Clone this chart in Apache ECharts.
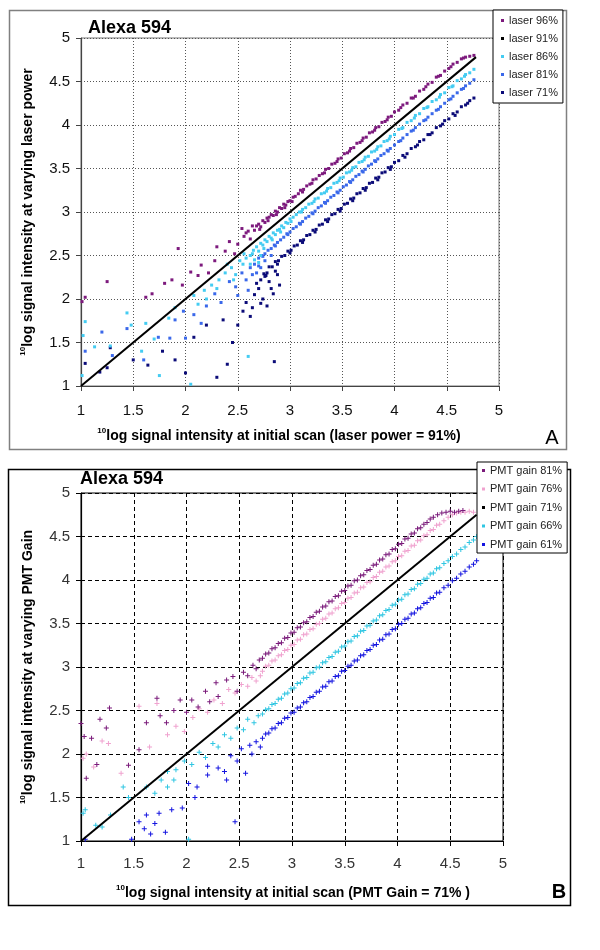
<!DOCTYPE html>
<html><head><meta charset="utf-8">
<script src="https://cdn.jsdelivr.net/npm/echarts@6/dist/echarts.min.js"></script>
<style>html,body{margin:0;padding:0;background:#fff}#c{width:600px;height:950px}</style>
</head><body><div id="c"></div>
<script>
// ---------- Axis ticks ----------
const axisTicks = [1, 1.5, 2, 2.5, 3, 3.5, 4, 4.5, 5];

// ---------- Panel A (laser power) ----------
const namesA = ['laser 96%', 'laser 91%', 'laser 86%', 'laser 81%', 'laser 71%'];
const a96 = [[2.66,2.79],[2.68,2.84],[2.70,2.86],[2.72,2.83],[2.74,2.90],[2.76,2.88],[2.78,2.93],[2.80,2.94],[2.82,2.97],[2.84,2.96],[2.86,3.01],[2.88,3.00],[2.90,3.05],[2.92,3.04],[2.94,3.09],[2.96,3.08],[2.98,3.12],[3.00,3.13],[3.03,3.17],[3.05,3.18],[3.08,3.21],[3.10,3.25],[3.13,3.26],[3.16,3.30],[3.19,3.32],[3.22,3.37],[3.25,3.38],[3.28,3.42],[3.31,3.44],[3.34,3.49],[3.37,3.50],[3.40,3.55],[3.43,3.56],[3.46,3.61],[3.49,3.62],[3.52,3.67],[3.55,3.68],[3.58,3.73],[3.61,3.74],[3.64,3.79],[3.67,3.80],[3.70,3.85],[3.73,3.86],[3.76,3.91],[3.79,3.92],[3.82,3.97],[3.85,3.98],[3.88,4.03],[3.91,4.04],[3.94,4.09],[3.97,4.10],[4.00,4.15],[4.04,4.17],[4.08,4.23],[4.12,4.25],[4.16,4.31],[4.20,4.33],[4.24,4.39],[4.28,4.41],[4.32,4.47],[4.36,4.49],[4.40,4.55],[4.44,4.57],[4.48,4.62],[4.52,4.65],[4.56,4.70],[4.60,4.72],[4.64,4.76],[4.68,4.78],[4.72,4.79],[4.76,4.80],
  [2.71,2.80],[2.79,2.90],[2.87,2.97],[2.95,3.05],[3.02,3.12],[3.12,3.23],[3.21,3.33],[3.33,3.45],[3.45,3.58],[3.57,3.70],[3.69,3.82],[3.81,3.94],[3.93,4.06],[4.06,4.20],[4.18,4.31],[4.30,4.44],[4.42,4.56],[4.54,4.67],[4.66,4.77],
  [1.01,1.97],[1.04,2.02],[1.25,2.20],[1.62,2.02],[1.68,2.06],[1.80,2.18],[1.87,2.22],[1.93,2.58],[1.97,2.16],[2.05,2.31],[2.12,2.27],[2.15,2.39],[2.22,2.30],[2.28,2.44],[2.30,2.60],[2.38,2.55],[2.42,2.66],[2.47,2.52],[2.50,2.63],[2.54,2.81],[2.56,2.72],[2.60,2.78],[2.62,2.69],[2.64,2.84],[2.58,2.76]];
const a91 = [[1,1],[4.78,4.78]];
const a86 = [[2.62,2.50],[2.65,2.56],[2.68,2.60],[2.70,2.55],[2.72,2.64],[2.74,2.62],[2.76,2.68],[2.78,2.66],[2.80,2.72],[2.82,2.70],[2.84,2.76],[2.86,2.74],[2.88,2.79],[2.90,2.80],[2.92,2.84],[2.94,2.82],[2.96,2.88],[2.98,2.87],[3.00,2.92],[3.03,2.94],[3.06,2.97],[3.09,3.00],[3.12,3.03],[3.15,3.05],[3.18,3.09],[3.21,3.10],[3.24,3.15],[3.27,3.16],[3.30,3.21],[3.33,3.22],[3.36,3.27],[3.39,3.28],[3.42,3.33],[3.45,3.34],[3.48,3.39],[3.51,3.40],[3.54,3.45],[3.57,3.46],[3.60,3.51],[3.63,3.52],[3.66,3.57],[3.69,3.58],[3.72,3.63],[3.75,3.64],[3.78,3.69],[3.81,3.70],[3.84,3.75],[3.87,3.76],[3.90,3.81],[3.93,3.82],[3.96,3.87],[4.00,3.89],[4.04,3.95],[4.08,3.97],[4.12,4.03],[4.16,4.05],[4.20,4.11],[4.24,4.13],[4.28,4.19],[4.32,4.21],[4.36,4.27],[4.40,4.29],[4.44,4.35],[4.48,4.37],[4.52,4.43],[4.56,4.45],[4.60,4.51],[4.64,4.53],[4.68,4.58],[4.72,4.60],[4.76,4.64],
  [2.75,2.58],[2.83,2.68],[2.91,2.77],[3.01,2.89],[3.11,3.00],[3.23,3.12],[3.35,3.24],[3.47,3.36],[3.59,3.48],[3.71,3.60],[3.83,3.72],[3.95,3.84],[4.07,3.96],[4.19,4.08],[4.31,4.20],[4.43,4.32],[4.55,4.44],[4.67,4.56],
  [1.01,1.12],[1.02,1.58],[1.04,1.74],[1.13,1.45],[1.28,1.46],[1.44,1.84],[1.48,1.70],[1.58,1.40],[1.62,1.72],[1.70,1.54],[1.75,1.12],[1.84,1.78],[1.90,1.90],[2.05,1.02],[2.08,2.04],[2.12,1.94],[2.18,2.10],[2.25,2.16],[2.32,2.22],[2.38,2.30],[2.44,2.36],[2.48,2.28],[2.52,2.44],[2.60,1.34],[2.56,2.52],[2.62,2.40],[2.20,2.00],[2.30,2.12],[2.55,2.40],[2.58,2.47],[2.66,2.45],[2.70,2.42],[2.64,2.52],[2.72,2.50],[2.46,2.22],[2.40,2.40]];
const a81 = [[2.66,2.40],[2.70,2.47],[2.73,2.50],[2.76,2.52],[2.79,2.56],[2.82,2.58],[2.85,2.62],[2.88,2.65],[2.91,2.68],[2.94,2.71],[2.97,2.75],[3.00,2.77],[3.03,2.81],[3.06,2.83],[3.09,2.87],[3.12,2.89],[3.15,2.93],[3.18,2.95],[3.21,2.99],[3.24,3.01],[3.27,3.05],[3.30,3.07],[3.33,3.11],[3.36,3.13],[3.39,3.17],[3.42,3.19],[3.45,3.23],[3.48,3.25],[3.51,3.29],[3.54,3.31],[3.57,3.35],[3.60,3.37],[3.63,3.41],[3.66,3.43],[3.69,3.47],[3.72,3.49],[3.75,3.53],[3.78,3.55],[3.81,3.59],[3.84,3.61],[3.87,3.65],[3.90,3.67],[3.93,3.71],[3.96,3.73],[4.00,3.77],[4.04,3.81],[4.08,3.85],[4.12,3.89],[4.16,3.93],[4.20,3.97],[4.24,4.01],[4.28,4.05],[4.32,4.09],[4.36,4.13],[4.40,4.17],[4.44,4.21],[4.48,4.25],[4.52,4.29],[4.56,4.33],[4.60,4.37],[4.64,4.41],[4.68,4.45],[4.72,4.48],[4.76,4.52],
  [2.74,2.49],[2.86,2.61],[2.98,2.74],[3.10,2.86],[3.22,2.98],[3.34,3.10],[3.46,3.22],[3.58,3.34],[3.70,3.46],[3.82,3.58],[3.94,3.70],[4.06,3.82],[4.18,3.94],[4.30,4.06],[4.42,4.18],[4.54,4.30],[4.66,4.42],
  [1.04,1.40],[1.20,1.62],[1.30,1.35],[1.44,1.66],[1.60,1.30],[1.74,1.56],[1.85,1.55],[1.90,1.76],[1.98,1.86],[2.00,1.55],[2.08,1.82],[2.15,1.72],[2.20,1.92],[2.28,2.06],[2.34,1.96],[2.42,2.20],[2.48,2.14],[2.54,2.30],[2.58,2.22],[2.62,2.36],[2.64,2.28],[2.70,2.38],[2.76,2.44],[2.82,2.50],[2.60,2.10],[2.68,2.30],[2.72,2.36],[2.50,2.04]];
const a71 = [[2.72,2.22],[2.75,2.29],[2.78,2.30],[2.80,2.37],[2.83,2.37],[2.86,2.43],[2.89,2.44],[2.92,2.49],[2.95,2.50],[2.98,2.55],[3.01,2.56],[3.04,2.61],[3.07,2.62],[3.10,2.67],[3.13,2.68],[3.16,2.73],[3.19,2.74],[3.22,2.79],[3.25,2.80],[3.28,2.85],[3.31,2.86],[3.34,2.91],[3.37,2.92],[3.40,2.97],[3.43,2.98],[3.46,3.03],[3.49,3.04],[3.52,3.09],[3.55,3.10],[3.58,3.15],[3.61,3.16],[3.64,3.21],[3.67,3.22],[3.70,3.27],[3.73,3.28],[3.76,3.33],[3.79,3.34],[3.82,3.39],[3.85,3.40],[3.88,3.45],[3.91,3.46],[3.94,3.51],[3.97,3.52],[4.00,3.57],[4.04,3.59],[4.08,3.65],[4.12,3.67],[4.16,3.73],[4.20,3.75],[4.24,3.81],[4.28,3.83],[4.32,3.89],[4.36,3.91],[4.40,3.97],[4.44,3.99],[4.48,4.05],[4.52,4.07],[4.56,4.13],[4.60,4.15],[4.64,4.21],[4.68,4.23],[4.72,4.28],[4.76,4.31],
  [2.77,2.27],[2.88,2.40],[3.00,2.53],[3.12,2.65],[3.24,2.77],[3.36,2.89],[3.48,3.01],[3.60,3.13],[3.72,3.25],[3.84,3.37],[3.96,3.49],[4.10,3.63],[4.22,3.77],[4.34,3.89],[4.46,4.01],[4.58,4.11],[4.70,4.25],
  [1.04,1.26],[1.18,1.16],[1.25,1.21],[1.28,1.44],[1.50,1.30],[1.64,1.24],[1.78,1.40],[1.90,1.30],[2.00,1.15],[2.08,1.56],[2.20,1.70],[2.30,1.10],[2.36,1.76],[2.40,1.25],[2.45,1.50],[2.50,1.70],[2.55,1.86],[2.58,1.96],[2.62,1.80],[2.66,2.05],[2.70,2.12],[2.74,2.00],[2.78,1.92],[2.80,2.20],[2.84,2.06],[2.85,1.28],[2.88,2.28],[2.90,2.16],[2.76,2.26],[2.68,2.18],[2.72,1.95],[2.82,2.12],[2.64,1.90],[2.86,2.32]];

// ---------- Panel B (PMT gain) ----------
const namesB = ['PMT gain 81%', 'PMT gain 76%', 'PMT gain 71%', 'PMT gain 66%', 'PMT gain 61%'];
const b81 = [[2.72,3.10],[2.75,3.15],[2.78,3.16],[2.81,3.21],[2.84,3.22],[2.87,3.27],[2.90,3.28],[2.93,3.33],[2.96,3.34],[2.99,3.39],[3.02,3.40],[3.05,3.45],[3.08,3.46],[3.11,3.51],[3.14,3.52],[3.17,3.57],[3.20,3.58],[3.23,3.63],[3.26,3.64],[3.29,3.69],[3.32,3.70],[3.35,3.75],[3.38,3.76],[3.41,3.81],[3.44,3.82],[3.47,3.87],[3.50,3.88],[3.53,3.93],[3.56,3.94],[3.59,3.99],[3.62,4.00],[3.65,4.05],[3.68,4.06],[3.71,4.11],[3.74,4.12],[3.77,4.17],[3.80,4.18],[3.83,4.23],[3.86,4.24],[3.89,4.29],[3.92,4.30],[3.95,4.35],[3.98,4.36],[4.01,4.41],[4.04,4.42],[4.07,4.47],[4.10,4.48],[4.13,4.53],[4.16,4.54],[4.19,4.59],[4.22,4.60],[4.25,4.64],[4.28,4.66],[4.31,4.70],[4.34,4.72],[4.38,4.75],[4.42,4.77],[4.46,4.78],[4.50,4.79],[4.54,4.78],[4.58,4.79],[4.62,4.80],
  [1.00,2.35],[1.03,2.20],[1.05,1.72],[1.10,2.18],[1.15,1.88],[1.18,2.40],[1.24,2.30],[1.27,2.53],[1.45,1.87],[1.55,2.05],[1.62,2.36],[1.72,2.64],[1.75,2.44],[1.81,2.36],[1.88,2.50],[1.94,2.62],[2.00,2.48],[2.05,2.62],[2.11,2.54],[2.18,2.72],[2.22,2.60],[2.28,2.82],[2.38,2.85],[2.44,2.89],[2.48,2.72],[2.54,2.94],[2.58,2.90],[2.63,3.02],[2.66,2.98],[2.69,3.08],[2.30,2.66]];
const b76 = [[2.72,2.95],[2.75,3.01],[2.78,3.02],[2.81,3.07],[2.84,3.08],[2.87,3.13],[2.90,3.14],[2.93,3.19],[2.96,3.20],[2.99,3.25],[3.02,3.26],[3.05,3.31],[3.08,3.32],[3.11,3.37],[3.14,3.38],[3.17,3.43],[3.20,3.44],[3.23,3.49],[3.26,3.50],[3.29,3.55],[3.32,3.56],[3.35,3.61],[3.38,3.62],[3.41,3.67],[3.44,3.68],[3.47,3.73],[3.50,3.74],[3.53,3.79],[3.56,3.80],[3.59,3.85],[3.62,3.86],[3.65,3.91],[3.68,3.92],[3.71,3.97],[3.74,3.98],[3.77,4.03],[3.80,4.04],[3.83,4.09],[3.86,4.10],[3.89,4.15],[3.92,4.16],[3.95,4.21],[3.98,4.22],[4.01,4.27],[4.04,4.28],[4.07,4.33],[4.10,4.34],[4.13,4.39],[4.16,4.40],[4.19,4.45],[4.22,4.46],[4.25,4.51],[4.28,4.52],[4.31,4.57],[4.34,4.58],[4.37,4.63],[4.40,4.64],[4.44,4.68],[4.48,4.72],[4.52,4.75],[4.56,4.77],[4.60,4.78],[4.64,4.78],[4.68,4.79],[4.72,4.78],
  [1.02,1.95],[1.05,2.00],[1.12,1.85],[1.20,2.15],[1.26,2.12],[1.38,1.78],[1.55,2.55],[1.65,2.08],[1.72,2.58],[1.82,2.22],[1.90,2.32],[1.98,2.26],[2.06,2.42],[2.12,2.52],[2.20,2.48],[2.26,2.62],[2.34,2.58],[2.40,2.74],[2.46,2.70],[2.52,2.80],[2.58,2.78],[2.62,2.88],[2.66,2.84],[2.70,2.90]];
const b71 = [[1,1],[4.75,4.75]];
const b66 = [[2.72,2.46],[2.75,2.51],[2.78,2.52],[2.81,2.57],[2.84,2.58],[2.87,2.63],[2.90,2.64],[2.93,2.69],[2.96,2.70],[2.99,2.75],[3.02,2.76],[3.05,2.81],[3.08,2.82],[3.11,2.87],[3.14,2.88],[3.17,2.93],[3.20,2.94],[3.23,2.99],[3.26,3.00],[3.29,3.05],[3.32,3.06],[3.35,3.11],[3.38,3.12],[3.41,3.17],[3.44,3.18],[3.47,3.23],[3.50,3.24],[3.53,3.29],[3.56,3.30],[3.59,3.35],[3.62,3.36],[3.65,3.41],[3.68,3.42],[3.71,3.47],[3.74,3.48],[3.77,3.53],[3.80,3.54],[3.83,3.59],[3.86,3.60],[3.89,3.65],[3.92,3.66],[3.95,3.71],[3.98,3.72],[4.01,3.77],[4.04,3.78],[4.07,3.83],[4.10,3.84],[4.13,3.89],[4.16,3.90],[4.19,3.95],[4.22,3.96],[4.25,4.01],[4.28,4.02],[4.31,4.07],[4.34,4.08],[4.37,4.13],[4.40,4.14],[4.44,4.19],[4.48,4.22],[4.52,4.27],[4.56,4.30],[4.60,4.35],[4.64,4.38],[4.68,4.43],[4.72,4.46],[4.75,4.50],
  [1.02,1.32],[1.04,1.36],[1.14,1.18],[1.20,1.16],[1.28,1.30],[1.40,1.62],[1.45,1.50],[1.62,1.62],[1.70,1.55],[1.76,1.70],[1.82,1.80],[1.90,1.82],[1.98,1.92],[2.02,1.02],[2.05,1.88],[2.12,2.02],[2.18,1.96],[2.25,2.12],[2.30,2.08],[2.36,2.22],[2.42,2.18],[2.48,2.30],[2.54,2.28],[2.58,2.40],[2.64,2.36],[2.68,2.44],[1.82,1.62],[1.88,1.70]];
const b61 = [[2.72,2.18],[2.75,2.23],[2.78,2.24],[2.81,2.29],[2.84,2.30],[2.87,2.35],[2.90,2.36],[2.93,2.41],[2.96,2.42],[2.99,2.47],[3.02,2.48],[3.05,2.53],[3.08,2.54],[3.11,2.59],[3.14,2.60],[3.17,2.65],[3.20,2.66],[3.23,2.71],[3.26,2.72],[3.29,2.77],[3.32,2.78],[3.35,2.83],[3.38,2.84],[3.41,2.89],[3.44,2.90],[3.47,2.95],[3.50,2.96],[3.53,3.01],[3.56,3.02],[3.59,3.07],[3.62,3.08],[3.65,3.13],[3.68,3.14],[3.71,3.19],[3.74,3.20],[3.77,3.25],[3.80,3.26],[3.83,3.31],[3.86,3.32],[3.89,3.37],[3.92,3.38],[3.95,3.43],[3.98,3.44],[4.01,3.49],[4.04,3.50],[4.07,3.55],[4.10,3.56],[4.13,3.61],[4.16,3.62],[4.19,3.67],[4.22,3.68],[4.25,3.73],[4.28,3.74],[4.31,3.79],[4.34,3.80],[4.37,3.85],[4.40,3.86],[4.44,3.91],[4.48,3.94],[4.52,3.99],[4.56,4.02],[4.60,4.07],[4.64,4.10],[4.68,4.15],[4.72,4.18],[4.75,4.22],
  [1.04,1.02],[1.48,1.02],[1.55,1.22],[1.60,1.14],[1.62,1.30],[1.66,1.08],[1.70,1.20],[1.74,1.32],[1.80,1.10],[1.86,1.36],[1.96,1.38],[2.02,1.66],[2.08,1.50],[2.10,1.62],[2.20,1.76],[2.30,1.84],[2.36,1.80],[2.42,1.98],[2.48,1.92],[2.52,2.06],[2.56,1.78],[2.60,2.10],[2.62,2.00],[2.66,2.14],[2.70,2.08],[2.46,1.22],[2.20,1.86],[2.38,1.70]];

const colorsA = ['#7d1a7d', '#000000', '#44ccf2', '#3a68ea', '#0b0b78'];
const colorsB = ['#7a1a7a', '#f0a2cf', '#000000', '#2fc6e2', '#1414e0'];

const FONT = 'Liberation Sans, Arial, sans-serif';
const PLUS = 'path://M2,0H3V2H5V3H3V5H2V3H0V2H2Z';

function axis(gi, type, panel) {
  const dotted = panel === 'A';
  return {
    type: 'value', gridIndex: gi, min: axisTicks[0], max: axisTicks[axisTicks.length - 1], interval: 0.5,
    axisLine: { onZero: false, lineStyle: { color: dotted ? '#444' : '#000', width: 1.2 } },
    axisTick: { length: 5, lineStyle: { color: dotted ? '#444' : '#000' } },
    axisLabel: {
      margin: type === 'x' ? (dotted ? 17 : 15) : 11,
      fontSize: 15, color: dotted ? '#111' : '#333', fontFamily: FONT
    },
    splitLine: { show: true, lineStyle: dotted ? { type: [1, 2], color: '#555', width: 1 } : { type: [4, 3], color: '#000', width: 1 } }
  };
}

function scat(name, data, color, gi, panel) {
  return {
    name, type: 'scatter', xAxisIndex: gi, yAxisIndex: gi, data,
    symbol: panel === 'A' ? 'rect' : PLUS,
    symbolSize: panel === 'A' ? 3 : 5,
    itemStyle: { color, opacity: 1 }, silent: true
  };
}
function diag(name, data, gi) {
  return {
    name, type: 'line', xAxisIndex: gi, yAxisIndex: gi, data, showSymbol: false,
    lineStyle: { color: '#000', width: 2 }, itemStyle: { color: '#000' }, silent: true, z: 5
  };
}

function legendCfg(names, left, top, gap, fs, pad) {
  return {
    data: names, left, top, orient: 'vertical', icon: 'rect', itemWidth: 3, itemHeight: 3,
    itemGap: gap, itemTextGap: 6, selectedMode: false,
    textStyle: { fontSize: fs, fontFamily: FONT, color: '#222' },
    backgroundColor: '#fff', borderColor: '#000', borderWidth: 1, borderRadius: 0, padding: pad
  };
}

function axisTitle(x, y, text, rot, fs) {
  return {
    type: 'text', x, y, rotation: rot, z: 100,
    style: {
      text: '{s|10}{t|' + text + '}', align: 'center', verticalAlign: 'middle',
      rich: {
        s: { fontSize: 8, fontWeight: 'bold', fontFamily: FONT, verticalAlign: 'top', lineHeight: 16, fill: '#000' },
        t: { fontSize: fs, fontWeight: 'bold', fontFamily: FONT, verticalAlign: 'bottom', lineHeight: 16, fill: '#000' }
      }
    }
  };
}

const chart = echarts.init(document.getElementById('c'), null, { renderer: 'canvas' });
chart.setOption({
  animation: false,
  backgroundColor: '#fff',
  grid: [
    { left: 81, top: 38, width: 418, height: 348, show: true, borderColor: '#777', borderWidth: 1 },
    { left: 81, top: 493, width: 422, height: 348, show: true, borderColor: '#000', borderWidth: 1 }
  ],
  xAxis: [axis(0, 'x', 'A'), axis(1, 'x', 'B')],
  yAxis: [axis(0, 'y', 'A'), axis(1, 'y', 'B')],
  legend: [legendCfg(namesA, 493, 10, 7, 11, [5, 5, 5, 8]), legendCfg(namesB, 477, 462, 7.5, 11, [3, 5, 3, 5])],
  series: [
    scat(namesA[4], a71, colorsA[4], 0, 'A'),
    scat(namesA[3], a81, colorsA[3], 0, 'A'),
    scat(namesA[2], a86, colorsA[2], 0, 'A'),
    scat(namesA[0], a96, colorsA[0], 0, 'A'),
    diag(namesA[1], a91, 0),
    scat(namesB[4], b61, colorsB[4], 1, 'B'),
    scat(namesB[3], b66, colorsB[3], 1, 'B'),
    scat(namesB[1], b76, colorsB[1], 1, 'B'),
    scat(namesB[0], b81, colorsB[0], 1, 'B'),
    diag(namesB[2], b71, 1)
  ],
  graphic: [
    { type: 'rect', shape: { x: 9.5, y: 10.5, width: 557, height: 439 }, style: { fill: 'none', stroke: '#808080', lineWidth: 1.5 }, z: -10 },
    { type: 'rect', shape: { x: 8.5, y: 469.5, width: 562, height: 436 }, style: { fill: 'none', stroke: '#000', lineWidth: 1.5 }, z: -10 },
    { type: 'text', x: 88, y: 28, style: { text: 'Alexa 594', font: 'bold 18px ' + FONT, fill: '#000', verticalAlign: 'middle' } },
    { type: 'text', x: 80, y: 479, style: { text: 'Alexa 594', font: 'bold 18px ' + FONT, fill: '#000', verticalAlign: 'middle' } },
    axisTitle(279, 435, 'log signal intensity at initial scan (laser power = 91%)', 0, 14),
    axisTitle(27, 212, 'log signal intensity at varying laser power', Math.PI / 2, 14),
    axisTitle(293, 892, 'log signal intensity at initial scan (PMT Gain = 71% )', 0, 14),
    axisTitle(27, 667, 'log signal intensity at varying PMT Gain', Math.PI / 2, 14),
    { type: 'text', x: 552, y: 438, style: { text: 'A', font: '20px ' + FONT, fill: '#000', align: 'center', verticalAlign: 'middle' } },
    { type: 'text', x: 559, y: 892, style: { text: 'B', font: 'bold 20px ' + FONT, fill: '#000', align: 'center', verticalAlign: 'middle' } }
  ]
});
</script>
</body></html>
